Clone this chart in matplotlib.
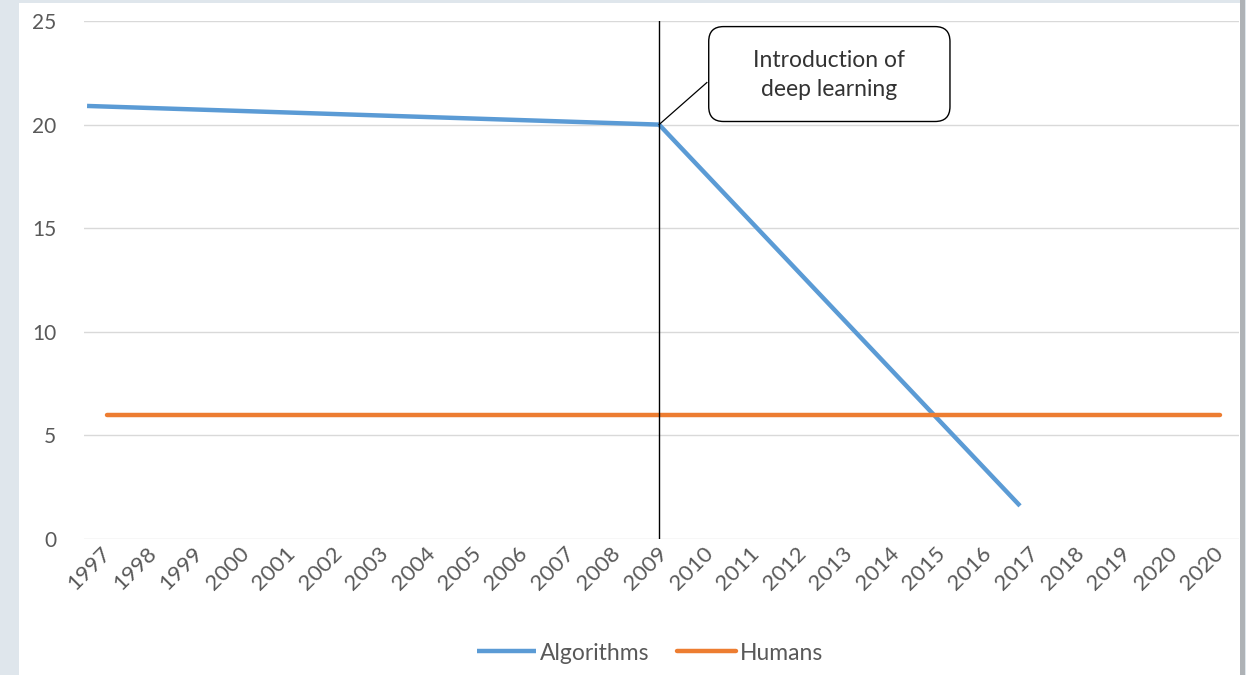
import matplotlib.pyplot as plt
from matplotlib.patches import FancyBboxPatch, Rectangle

plt.rcParams['font.family'] = ['Lato', 'DejaVu Sans']

# Category labels along the x axis (the source repeats 2020)
years = ['1997', '1998', '1999', '2000', '2001', '2002', '2003', '2004',
         '2005', '2006', '2007', '2008', '2009', '2010', '2011', '2012',
         '2013', '2014', '2015', '2016', '2017', '2018', '2019', '2020', '2020']

# Humans: flat error rate on every category
humans = [6, 6, 6, 6, 6, 6, 6, 6, 6, 6, 6, 6, 6,
          6, 6, 6, 6, 6, 6, 6, 6, 6, 6, 6, 6]

# Algorithms: three points, positions in category units
algo_pos = [-0.43, 11.9, 19.68]
algo_vals = [20.9, 20.0, 1.6]

# Deep learning marker
dl_pos = 11.9
note = 'Introduction of\ndeep learning'

W, H = 1246, 675
fig = plt.figure(figsize=(W / 100, H / 100), dpi=100)
fig.patch.set_facecolor('#dfe6ec')

# white chart panel and grey right border
fig.add_artist(Rectangle((19 / W, 0), (1240 - 19) / W, (H - 3) / H,
                         transform=fig.transFigure, facecolor='white',
                         edgecolor='none', zorder=0))
fig.add_artist(Rectangle((1240 / W, 0), 5 / W, 1,
                         transform=fig.transFigure, facecolor='#aeb2b6',
                         edgecolor='none', zorder=10))

ax = fig.add_axes([83.8 / W, 136 / H, (1239 - 83.8) / W, 518 / H])
ax.patch.set_alpha(0)

x = list(range(len(years)))
ax.plot(algo_pos, algo_vals, color='#5b9bd5', lw=3.2, solid_capstyle='butt',
        label='Algorithms', zorder=3)
ax.plot(x, humans, color='#ed7d31', lw=3.2, solid_capstyle='round',
        label='Humans', zorder=3)
ax.axvline(dl_pos, color='black', lw=1.0, zorder=4)

ax.set_xlim(-0.5, 24.4)
ax.set_ylim(0, 25)
ax.set_yticks([0, 5, 10, 15, 20, 25])
ax.set_xticks(x)
ax.set_xticklabels(years, rotation=45, ha='right', va='center',
                   rotation_mode='anchor', fontsize=16)
ax.tick_params(axis='both', length=0, colors='#595959')
ax.tick_params(axis='y', pad=20, labelsize=15)
ax.tick_params(axis='x', pad=8)
ax.grid(axis='y', color='#d9d9d9', lw=1.0)
ax.set_axisbelow(True)
for s in ax.spines.values():
    s.set_visible(False)

# callout box for deep learning
box = FancyBboxPatch((12.97, 20.15), 18.17 - 12.97, 24.73 - 20.15,
                     boxstyle='round,pad=0,rounding_size=0.32',
                     mutation_aspect=46.4 / 20.7,
                     facecolor='white', edgecolor='black', lw=1.0, zorder=5)
ax.add_patch(box)
ax.plot([12.93, dl_pos], [22.03, 20.0], color='black', lw=0.9, zorder=4)
ax.text((12.97 + 18.17) / 2, 22.4, note, ha='center', va='center',
        fontsize=16.5, color='#333333', linespacing=1.45, zorder=6)

fig.legend(loc='center', bbox_to_anchor=(650 / W, 22 / H), ncol=2,
           frameon=False, fontsize=16.5, handlelength=2.6,
           handletextpad=0.15, columnspacing=1.2, labelcolor='#595959')

fig.savefig('out.png', dpi=100)
